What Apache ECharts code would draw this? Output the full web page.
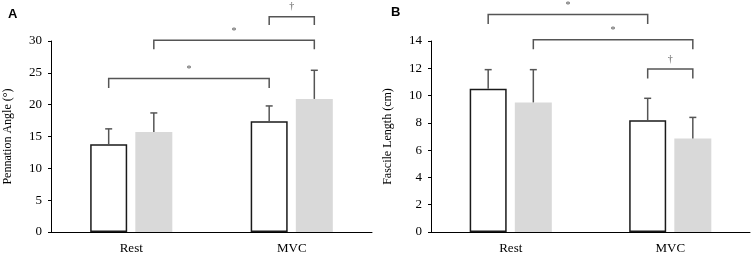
<!DOCTYPE html>
<html>
<head>
<meta charset="utf-8">
<script src="https://cdn.jsdelivr.net/npm/echarts@6/dist/echarts.min.js"></script>
<style>
  html, body { margin: 0; padding: 0; background: #fff; }
  #chart { width: 753px; height: 255px; }
</style>
</head>
<body>
<div id="chart"></div>
<script>
const categories = ['Rest', 'MVC'];

// Panel A: pennation angle (deg)
const angleWhite = [13.8, 17.4];
const angleWhiteSD = [2.4, 2.4];
const angleGray = [15.7, 20.9];
const angleGraySD = [3.0, 4.5];

// Panel B: fascicle length (cm)
const lengthWhite = [10.5, 8.2];
const lengthWhiteSD = [1.4, 1.6];
const lengthGray = [9.5, 6.85];
const lengthGraySD = [2.4, 1.55];

// brackets: [fromCat, fromSide, toCat, toSide, top, leg, mark]  side -1 = white bar, 1 = gray bar
const bracketsA = [
    [0, -1, 1, -1, 24.1, 22.6, '*'],
    [0, 1, 1, 1, 30.1, 28.7, '*'],
    [1, -1, 1, 1, 33.8, 32.5, '†']
];
const bracketsB = [
    [0, -1, 1, -1, 15.95, 15.25, '*'],
    [0, 1, 1, 1, 14.1, 13.4, '*'],
    [1, -1, 1, 1, 11.95, 11.25, '†']
];

const BAR_W = 37;
const BAR_GAP = 0.22;
const OFFSET = (BAR_W * 2 + BAR_W * BAR_GAP) / 2 - BAR_W / 2;
const SERIF = "'Liberation Serif', 'Times New Roman', serif";

function errorData(means, sds, side) {
    return means.map((m, i) => [i, m, sds[i], side]);
}

function renderError(params, api) {
    const x = api.coord([api.value(0), 0])[0] + api.value(3) * OFFSET;
    const y0 = api.coord([0, api.value(1)])[1];
    const y1 = api.coord([0, api.value(1) + api.value(2)])[1];
    const style = { stroke: '#555', lineWidth: 1.5 };
    return {
        type: 'group',
        children: [
            { type: 'line', shape: { x1: x, y1: y0, x2: x, y2: y1 }, style },
            { type: 'line', shape: { x1: x - 3.5, y1: y1, x2: x + 3.5, y2: y1 }, style }
        ]
    };
}

function bracketRenderer(list) {
    return function (params, api) {
        const b = list[params.dataIndex];
        const xa = api.coord([b[0], 0])[0] + b[1] * OFFSET;
        const xb = api.coord([b[2], 0])[0] + b[3] * OFFSET;
        const yt = api.coord([0, b[4]])[1];
        const yl = api.coord([0, b[5]])[1];
        const style = { stroke: '#555', lineWidth: 1.5, fill: null };
        return {
            type: 'group',
            children: [
                { type: 'polyline', shape: { points: [[xa, yl], [xa, yt], [xb, yt], [xb, yl]] }, style },
                {
                    type: 'text',
                    style: {
                        text: b[6], x: (xa + xb) / 2, y: yt - (b[6] === '*' ? 4 : 5),
                        align: 'center', verticalAlign: 'bottom',
                        font: '10px ' + SERIF, fill: '#555'
                    }
                }
            ]
        };
    };
}

function yAxis(gridIndex, max, interval, name, gap) {
    return {
        type: 'value', gridIndex, min: 0, max, interval,
        name, nameLocation: 'middle', nameGap: gap,
        nameTextStyle: { fontFamily: SERIF, fontSize: 12, color: '#000' },
        axisLine: { show: true, lineStyle: { color: '#000', width: 1 } },
        axisTick: { show: true, length: 3, lineStyle: { color: '#000' } },
        splitLine: { show: false },
        axisLabel: { fontFamily: SERIF, fontSize: 13, color: '#000', margin: 9 }
    };
}

function xAxis(gridIndex) {
    return {
        type: 'category', gridIndex, data: categories,
        axisLine: { lineStyle: { color: '#000', width: 1 } },
        axisTick: { show: false },
        axisLabel: { fontFamily: SERIF, fontSize: 13, color: '#000', margin: 10 }
    };
}

function panelSeries(idx, white, whiteSD, gray, graySD, brackets) {
    return [
        {
            type: 'bar', xAxisIndex: idx, yAxisIndex: idx, data: white,
            barWidth: BAR_W, barGap: (BAR_GAP * 100) + '%',
            itemStyle: { color: '#fff', borderColor: '#1a1a1a', borderWidth: 1.5 }
        },
        {
            type: 'bar', xAxisIndex: idx, yAxisIndex: idx, data: gray,
            barWidth: BAR_W,
            itemStyle: { color: '#d9d9d9' }
        },
        {
            type: 'custom', xAxisIndex: idx, yAxisIndex: idx, clip: false, z: 5,
            data: errorData(white, whiteSD, -1).concat(errorData(gray, graySD, 1)),
            renderItem: renderError
        },
        {
            type: 'custom', xAxisIndex: idx, yAxisIndex: idx, clip: false, z: 5,
            data: brackets.map(b => [b[0], b[4]]),
            renderItem: bracketRenderer(brackets)
        }
    ];
}

const chart = echarts.init(document.getElementById('chart'));
chart.setOption({
    animation: false,
    title: [
        { text: 'A', left: 3, top: 3, textStyle: { fontFamily: 'Liberation Sans', fontWeight: 'bold', fontSize: 13, color: '#000' } },
        { text: 'B', left: 386, top: 1, textStyle: { fontFamily: 'Liberation Sans', fontWeight: 'bold', fontSize: 13, color: '#000' } }
    ],
    grid: [
        { left: 51, right: 381, top: 41, bottom: 23 },
        { left: 431, right: 3, top: 41, bottom: 23 }
    ],
    xAxis: [xAxis(0), xAxis(1)],
    yAxis: [
        yAxis(0, 30, 5, 'Pennation Angle (°)', 37),
        yAxis(1, 14, 2, 'Fascile Length (cm)', 37)
    ],
    series: panelSeries(0, angleWhite, angleWhiteSD, angleGray, angleGraySD, bracketsA)
        .concat(panelSeries(1, lengthWhite, lengthWhiteSD, lengthGray, lengthGraySD, bracketsB))
});
</script>
</body>
</html>
